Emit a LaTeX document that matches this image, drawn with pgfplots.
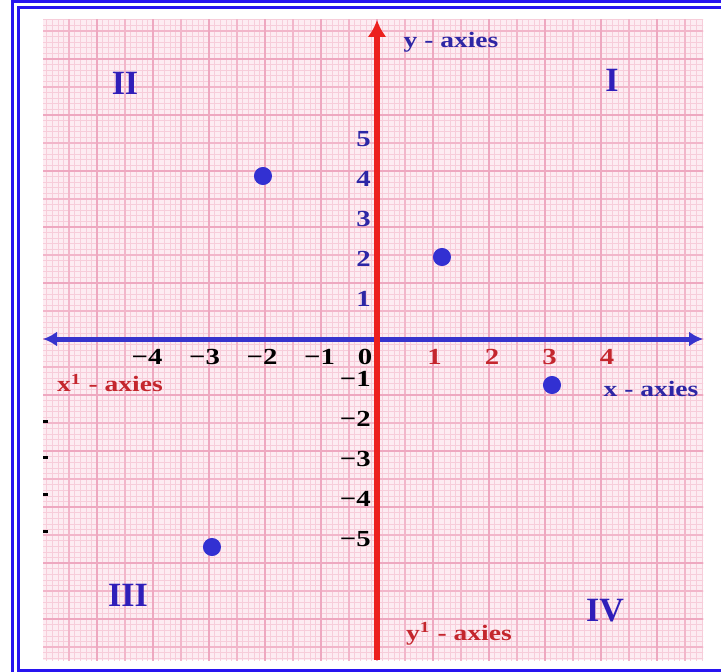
\documentclass[border=0pt]{standalone}
\usepackage[no-math]{fontspec}
\setmainfont{Liberation Serif}
\usepackage{pgfplots}
\pgfplotsset{compat=1.18}
\usetikzlibrary{arrows.meta}
\definecolor{navyc}{RGB}{45,38,165}
\definecolor{qnavy}{RGB}{48,30,185}
\definecolor{axblue}{RGB}{55,52,205}
\definecolor{dotblue}{RGB}{50,48,210}
\definecolor{axred}{RGB}{236,32,30}
\definecolor{txtred}{RGB}{196,38,45}
\definecolor{frameblue}{RGB}{40,20,240}
\definecolor{paper}{RGB}{253,236,242}
\definecolor{gminor}{RGB}{247,205,218}
\definecolor{gmed}{RGB}{242,182,202}
\definecolor{gmaj}{RGB}{238,168,192}
\begin{document}
\begin{tikzpicture}
% frame and paper
\begin{scope}[x=0.5pt,y=-0.5pt]
\fill[white] (0,0) rectangle (721,672);
\draw[frameblue,line width=1.5pt] (12.5,672) -- (12.5,1.5) -- (721,1.5);
\draw[frameblue,line width=1.5pt] (721,670.5) -- (18.5,670.5) -- (18.5,8) -- (721,8);
\fill[paper] (43,20) rectangle (703,660);
\end{scope}
\begin{scope}
\clip (21.5pt,-10pt) rectangle (351.5pt,-330pt);
\begin{scope}[shift={(188.5pt,-169.5pt)}]
\draw[gminor,line width=0.3pt,step=2.8pt] (-170pt,-165pt) grid (170pt,165pt);
\draw[gmed,line width=0.6pt,step=14pt] (-170pt,-165pt) grid (170pt,165pt);
\draw[gmaj,line width=1pt,step=28pt] (-170pt,-165pt) grid (170pt,165pt);
\end{scope}
\end{scope}
\begin{axis}[
  at={(21.5pt,-330pt)}, anchor=south west,
  scale only axis, width=330pt, height=320pt,
  xmin=-5.8087, xmax=5.6696, ymin=-8.025, ymax=7.975,
  axis lines=middle, clip=false,
  x axis line style={axblue, line width=2.5pt, {Latex[length=7pt,width=7.5pt]}-{Latex[length=7pt,width=7.5pt]}},
  y axis line style={axred, line width=2.8pt, -{Latex[length=8.5pt,width=9.5pt]}},
  major tick length=0pt,
  xtick={-4,-3,-2,-1,1,2,3,4},
  xticklabels={−4,−3,−2,−1,
    \textcolor{txtred}{1},\textcolor{txtred}{2},\textcolor{txtred}{3},\textcolor{txtred}{4}},
  ytick={-5,-4,-3,-2,-1,1,2,3,4,5},
  yticklabels={−5,−4,−3,−2,−1,
    \textcolor{navyc}{1},\textcolor{navyc}{2},\textcolor{navyc}{3},\textcolor{navyc}{4},\textcolor{navyc}{5}},
  tick label style={font=\bfseries\fontsize{11.5}{13}\selectfont, xscale=1.25},
  xticklabel style={yshift=-1.5pt},
  yticklabel style={xshift=1pt},
]
\addplot[only marks, mark=*, mark size=4.3pt, color=dotblue]
  coordinates {(-1.983,4.075) (1.130,2.05) (3.043,-1.15) (-2.870,-5.2)};
\end{axis}
% texts
\begin{scope}[x=0.5pt,y=-0.5pt]
\node[font=\bfseries\fontsize{11.5}{13}\selectfont, xscale=1.25] at (365,357) {0};
\node[navyc, font=\bfseries\fontsize{11}{13}\selectfont, xscale=1.25] at (451,42) {y - axies};
\node[navyc, font=\bfseries\fontsize{11}{13}\selectfont, xscale=1.25] at (651,389) {x - axies};
\node[txtred, font=\bfseries\fontsize{11}{13}\selectfont, xscale=1.25] at (110,383) {x\textsuperscript{1} - axies};
\node[txtred, font=\bfseries\fontsize{11}{13}\selectfont, xscale=1.25] at (459,634) {y\textsuperscript{1} - axies};
\node[qnavy, font=\bfseries\fontsize{17}{20}\selectfont] at (125,83) {II};
\node[qnavy, font=\bfseries\fontsize{17}{20}\selectfont] at (612,80) {I};
\node[qnavy, font=\bfseries\fontsize{17}{20}\selectfont] at (128,595) {III};
\node[qnavy, font=\bfseries\fontsize{17}{20}\selectfont] at (605,611) {IV};
\fill[black] (43,420.5) rectangle (48,423.5);
\fill[black] (43,456.5) rectangle (48,459.5);
\fill[black] (43,492.5) rectangle (48,495.5);
\fill[black] (43,529.5) rectangle (48,532.5);
\end{scope}
\pgfresetboundingbox
\useasboundingbox (0pt,0pt) rectangle (360.5pt,-336pt);
\end{tikzpicture}
\end{document}
